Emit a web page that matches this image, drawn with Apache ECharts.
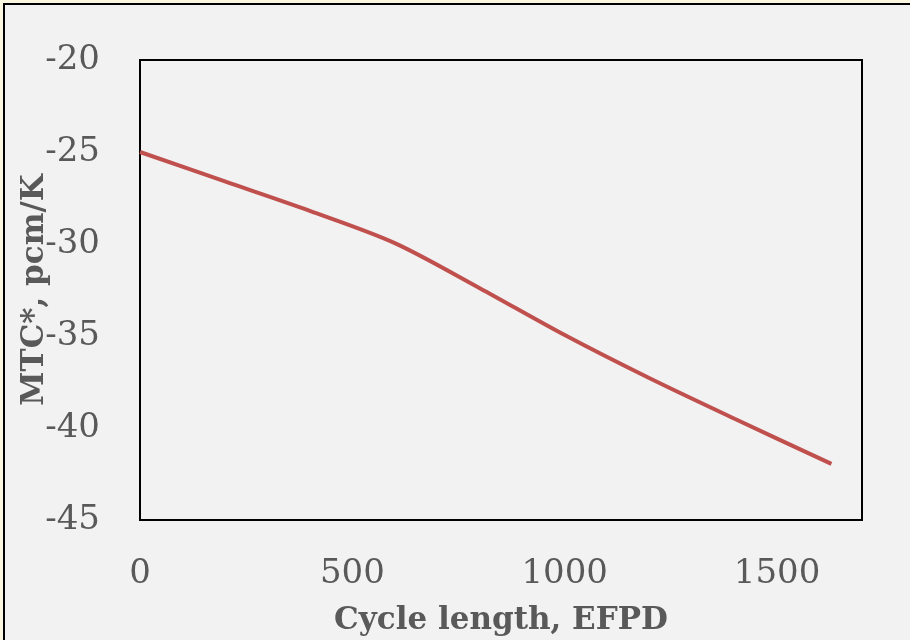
<!DOCTYPE html>
<html>
<head>
<meta charset="utf-8">
<script src="https://cdn.jsdelivr.net/npm/echarts@6/dist/echarts.min.js"></script>
<style>
  html, body { margin: 0; padding: 0; background: #fbf6df; }
  #wrap {
    position: absolute; left: 3px; top: 3px;
    width: 907px; height: 637px;
    border-left: 2px solid #000; border-top: 2px solid #000;
    box-sizing: border-box;
  }
  #chart { width: 905px; height: 635px; }
</style>
</head>
<body>
<div id="wrap"><div id="chart"></div></div>
<script>
  // cycle length (EFPD) and MTC* (pcm/K)
  const efpd = [0, 200, 400, 600, 800, 1000, 1200, 1400, 1628];
  const mtc = [-25.0, -26.6, -28.2, -29.95, -32.4, -34.95, -37.3, -39.5, -41.95];
  const xTicks = [0, 500, 1000, 1500];

  const textColor = '#595959';
  const font = 'DejaVu Serif';

  const chart = echarts.init(document.getElementById('chart'));
  chart.setOption({
    backgroundColor: '#f2f2f2',
    animation: false,
    grid: {
      left: 135, top: 55, right: 48, bottom: 120,
      outerBoundsMode: 'none', containLabel: false,
      show: true, borderColor: '#000', borderWidth: 2, backgroundColor: 'transparent'
    },
    xAxis: {
      type: 'value',
      min: 0, max: 1700, interval: 500,
      name: 'Cycle length, EFPD',
      nameLocation: 'middle',
      nameGap: 85,
      nameMoveOverlap: false,
      nameTextStyle: {color: textColor, fontFamily: font, fontWeight: 'bold', fontSize: 31},
      axisLine: {show: false},
      axisTick: {show: false},
      splitLine: {show: false},
      axisLabel: {
        color: textColor, fontFamily: font, fontSize: 34, margin: 37,
        formatter: v => xTicks.indexOf(v) >= 0 ? String(v) : ''
      }
    },
    yAxis: {
      type: 'value',
      min: -45, max: -20, interval: 5,
      name: 'MTC*, pcm/K',
      nameLocation: 'middle',
      nameGap: 90,
      nameMoveOverlap: false,
      nameTextStyle: {color: textColor, fontFamily: font, fontWeight: 'bold', fontSize: 31},
      axisLine: {show: false},
      axisTick: {show: false},
      splitLine: {show: false},
      axisLabel: {color: textColor, fontFamily: font, fontSize: 34, margin: 40}
    },
    series: [{
      type: 'line',
      data: efpd.map((x, i) => [x, mtc[i]]),
      smooth: 0.3,
      symbol: 'none',
      lineStyle: {color: '#c0504d', width: 4}
    }]
  });
</script>
</body>
</html>
